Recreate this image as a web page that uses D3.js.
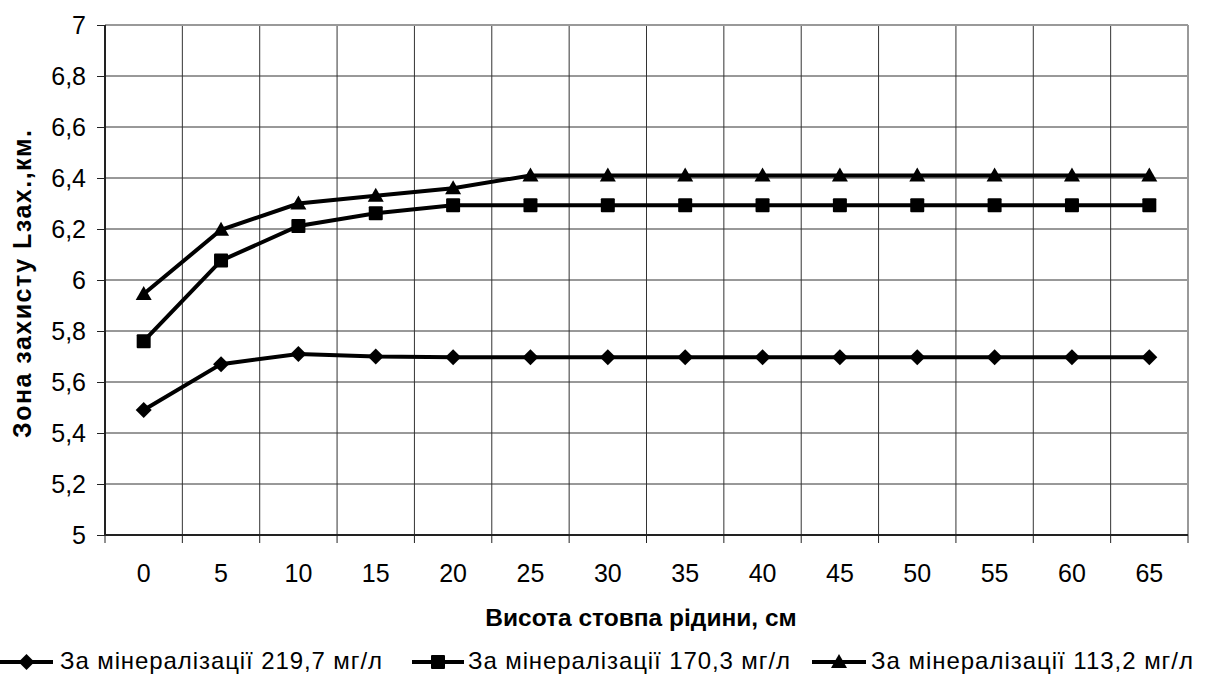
<!DOCTYPE html>
<html><head><meta charset="utf-8">
<script src="https://cdn.jsdelivr.net/npm/d3@7"></script>
<style>body{margin:0;background:#fff}svg{display:block}</style>
</head><body>
<svg id="c" width="1205" height="674"></svg>
<script>
const categories = ["0","5","10","15","20","25","30","35","40","45","50","55","60","65"];
const s219 = [5.49,5.67,5.71,5.70,5.697,5.697,5.697,5.697,5.697,5.697,5.697,5.697,5.697,5.697];
const s170 = [5.76,6.076,6.212,6.262,6.293,6.293,6.293,6.293,6.293,6.293,6.293,6.293,6.293,6.293];
const s113 = [5.945,6.197,6.30,6.33,6.36,6.41,6.41,6.41,6.41,6.41,6.41,6.41,6.41,6.41];
const seriesNames = ["За мінералізації 219,7 мг/л","За мінералізації 170,3 мг/л","За мінералізації 113,2 мг/л"];
const yTicks = [5,5.2,5.4,5.6,5.8,6,6.2,6.4,6.6,6.8,7];
const yTitle = "Зона захисту Lзах.,км.";
const xTitle = "Висота стовпа рідини, см";

const svg = d3.select("#c");
const L=105,R=1188,T=25,B=535;
const x = d3.scaleBand().domain(categories).range([L,R]);
const y = d3.scaleLinear().domain([5,7]).range([B,T]);
const font = "'Liberation Sans', Arial, sans-serif";
const fmt = v => String(+v.toFixed(1)).replace(".",",");

// horizontal gridlines
svg.append("g").selectAll("line").data(yTicks.slice(1,-1)).join("line")
  .attr("x1",L).attr("x2",R).attr("y1",d=>y(d)).attr("y2",d=>y(d))
  .attr("stroke","#333").attr("stroke-width",1);
// vertical gridlines at band boundaries
const bounds = categories.map(c=>x(c)).slice(1);
svg.append("g").selectAll("line").data(bounds).join("line")
  .attr("x1",d=>d).attr("x2",d=>d).attr("y1",T).attr("y2",B)
  .attr("stroke","#333").attr("stroke-width",1);
// border top/right gray
svg.append("line").attr("x1",L).attr("x2",R).attr("y1",T).attr("y2",T).attr("stroke","#999").attr("stroke-width",2);
svg.append("line").attr("x1",R).attr("x2",R).attr("y1",T).attr("y2",B).attr("stroke","#999").attr("stroke-width",2);

// y axis
const ya = svg.append("g").attr("transform",`translate(${L},0)`)
  .call(d3.axisLeft(y).tickValues(yTicks).tickFormat(fmt).tickSize(8).tickPadding(11));
ya.select(".domain").attr("stroke","#222").attr("stroke-width",2).attr("d",`M0,${T}V${B}`);
ya.selectAll(".tick line").attr("stroke","#222");
ya.selectAll("text").attr("font-family",font).attr("font-size",25).attr("fill","#000");

// x axis
const xa = svg.append("g").attr("transform",`translate(0,${B})`)
  .call(d3.axisBottom(x).tickSize(0).tickPadding(29));
xa.select(".domain").attr("stroke","#222").attr("stroke-width",2).attr("d",`M${L},0H${R}`);
xa.selectAll("text").attr("font-family",font).attr("font-size",25).attr("fill","#000");
svg.append("g").selectAll("line").data(categories.map(c=>x(c)).concat([R])).join("line")
  .attr("x1",d=>d).attr("x2",d=>d).attr("y1",B).attr("y2",B+8).attr("stroke","#222");

// titles
svg.append("text").attr("x",641).attr("y",626).attr("text-anchor","middle")
  .attr("font-family",font).attr("font-weight","bold").attr("font-size",24.5).text(xTitle);
svg.append("text").attr("transform","translate(31,284) rotate(-90)").attr("text-anchor","middle")
  .attr("font-family",font).attr("font-weight","bold").attr("font-size",25)
  .attr("textLength",308).attr("lengthAdjust","spacing").text(yTitle);

// series
const cx = c => x(c)+x.bandwidth()/2;
const data = [s219,s170,s113];
const line = d3.line().x((d,i)=>cx(categories[i])).y(d=>y(d));
function marker(g, k, px, py){
  if(k===0){
    g.append("path").attr("d",`M${px},${py-8}L${px+8},${py}L${px},${py+8}L${px-8},${py}Z`).attr("fill","#000");
  } else if(k===1){
    g.append("rect").attr("x",px-7).attr("y",py-7).attr("width",14).attr("height",14).attr("rx",1).attr("fill","#000");
  } else {
    g.append("path").attr("d",`M${px},${py-8}L${px+8},${py+6}L${px-8},${py+6}Z`).attr("fill","#000");
  }
}
data.forEach((s,k)=>{
  const g = svg.append("g");
  g.append("path").datum(s).attr("d",line).attr("fill","none").attr("stroke","#000").attr("stroke-width",4);
  s.forEach((v,i)=>marker(g,k,cx(categories[i]),y(v)));
});

// legend
const legLine = [[0,53],[412,464],[812,866]];
const legText = [60,468,871];
const ly = 662;
seriesNames.forEach((n,k)=>{
  const g = svg.append("g");
  g.append("line").attr("x1",legLine[k][0]).attr("x2",legLine[k][1]).attr("y1",ly).attr("y2",ly).attr("stroke","#000").attr("stroke-width",4);
  marker(g,k,(legLine[k][0]+legLine[k][1])/2,ly);
  g.append("text").attr("x",legText[k]).attr("y",ly+7).attr("font-family",font).attr("font-size",24)
    .attr("textLength",322).attr("lengthAdjust","spacing").text(n);
});
</script>
</body></html>
